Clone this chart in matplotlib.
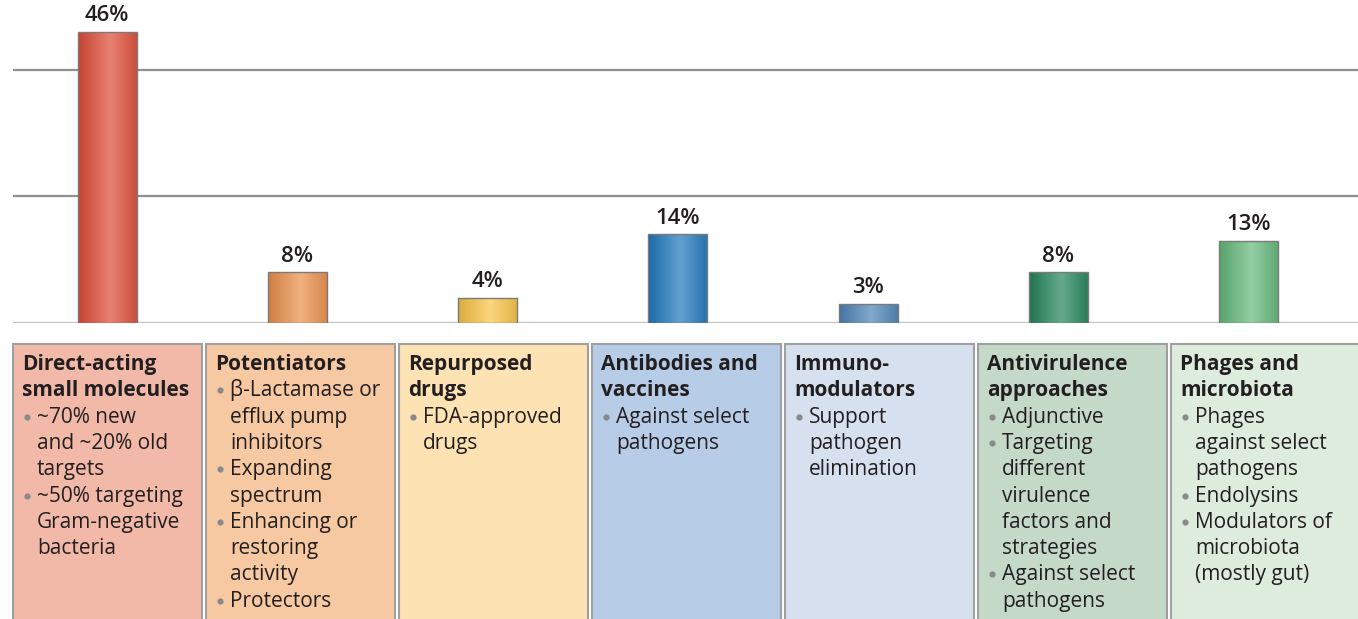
import matplotlib.pyplot as plt
import numpy as np
from matplotlib.colors import to_rgb
from matplotlib.patches import Rectangle

# share of pipeline programmes by approach
categories = ['Direct-acting small molecules', 'Potentiators', 'Repurposed drugs',
              'Antibodies and vaccines', 'Immunomodulators',
              'Antivirulence approaches', 'Phages and microbiota']
shares = [46, 8, 4, 14, 3, 8, 13]
bar_colors = ['#E04B36', '#EC8F4A', '#F9C444', '#1F78BE', '#4C84B8', '#23855A', '#63B97A']
box_colors = ['#F2B9A8', '#F6C9A2', '#FDE2B3', '#B7CCE7', '#D6E0EF', '#C4D9C8', '#DEECDD']

titles = [
    ['Direct-acting', 'small molecules'],
    ['Potentiators'],
    ['Repurposed', 'drugs'],
    ['Antibodies and', 'vaccines'],
    ['Immuno-', 'modulators'],
    ['Antivirulence', 'approaches'],
    ['Phages and', 'microbiota'],
]
bullets = [
    [['~70% new', 'and ~20% old', 'targets'], ['~50% targeting', 'Gram-negative', 'bacteria']],
    [['β-Lactamase or', 'efflux pump', 'inhibitors'], ['Expanding', 'spectrum'],
     ['Enhancing or', 'restoring', 'activity'], ['Protectors']],
    [['FDA-approved', 'drugs']],
    [['Against select', 'pathogens']],
    [['Support', 'pathogen', 'elimination']],
    [['Adjunctive'], ['Targeting', 'different', 'virulence', 'factors and', 'strategies'],
     ['Against select', 'pathogens']],
    [['Phages', 'against select', 'pathogens'], ['Endolysins'],
     ['Modulators of', 'microbiota', '(mostly gut)']],
]

plt.rcParams['font.family'] = ['Open Sans', 'DejaVu Sans']
TXT = '#231F20'

W, H = 1358, 619
fig = plt.figure(figsize=(W / 100, H / 100), dpi=100)

# bar panel: baseline at 323 px from the top
ax = fig.add_axes([13 / W, (H - 323) / H, (W - 13) / W, 323 / H])
ax.set_xlim(-0.494, 6.574)
ax.set_ylim(0, 51.0)
ax.axis('off')

for g in (20, 40):
    ax.axhline(g, color='#8f8f8f', lw=1.6, zorder=1)
ax.axhline(0, color='#c8c8c8', lw=2.5, zorder=1)

bw = 0.31
t = np.linspace(0, 1, 120)
shade = 1 - np.abs(t - 0.55) / 0.55
for i, (v, c) in enumerate(zip(shares, bar_colors)):
    base = np.array(to_rgb(c))
    dark = base * 0.88
    light = base + (1 - base) * 0.3
    grad = dark[None, :] * (1 - shade[:, None]) + light[None, :] * shade[:, None]
    rect = Rectangle((i - bw / 2, 0), bw, v, facecolor='none',
                     edgecolor='#7a7a7a', lw=1.0, zorder=4)
    ax.add_patch(rect)
    im = ax.imshow(grad[None, :, :], extent=(i - bw / 2, i + bw / 2, 0, v),
                   aspect='auto', zorder=3, interpolation='bilinear')
    im.set_clip_path(rect)
    ax.text(i, v + 0.9, f'{v}%', ha='center', va='bottom', fontsize=16,
            fontweight='semibold', color=TXT, zorder=5)

# description boxes, laid out in pixel units
bx = fig.add_axes([0, 0, 1, 1])
bx.set_xlim(0, W)
bx.set_ylim(H, 0)
bx.axis('off')
bx.set_zorder(-1)

pitch = 26.3
for i in range(len(categories)):
    left = 13 + i * 193
    bx.add_patch(Rectangle((left, 344), 189, 300, facecolor=box_colors[i],
                           edgecolor='#a0a0a0', lw=1.5))
    y = 370
    for line in titles[i]:
        bx.text(left + 9, y, line, fontsize=15, fontweight='bold', color=TXT, va='baseline')
        y += pitch
    for item in bullets[i]:
        bx.plot(left + 14, y - 6, 'o', ms=4.5, color='#8a8a8a', mec='none')
        for line in item:
            bx.text(left + 24, y, line, fontsize=15, color=TXT, va='baseline')
            y += pitch

fig.savefig('out.png', dpi=100)
